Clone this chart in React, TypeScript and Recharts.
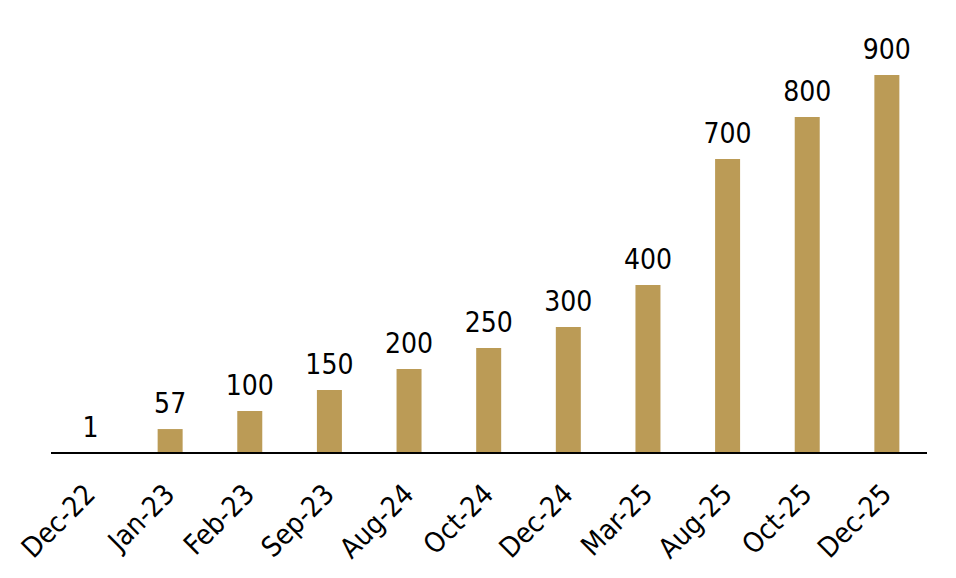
import React from "react";
import { BarChart, Bar, XAxis, YAxis, LabelList } from "recharts";

const categories = ["Dec-22", "Jan-23", "Feb-23", "Sep-23", "Aug-24", "Oct-24", "Dec-24", "Mar-25", "Aug-25", "Oct-25", "Dec-25"];
const values = [1, 57, 100, 150, 200, 250, 300, 400, 700, 800, 900];

const data = categories.map((c, i) => ({ name: c, value: values[i] }));

const FONT = "'DejaVu Sans Condensed', 'DejaVu Sans', sans-serif";

const Tick = (props: any) => {
  const { x, y, payload } = props;
  const ax = x + 6;
  const ay = y + 35;
  return (
    <text
      x={ax}
      y={ay}
      transform={`rotate(-45, ${ax}, ${ay})`}
      textAnchor="end"
      fontSize={28}
      fontFamily={FONT}
      style={{ fontStretch: "condensed" }}
      fill="#000"
    >
      {payload.value}
    </text>
  );
};

export default function App() {
  return (
    <div style={{ position: "absolute", left: 0, top: 0, width: 956, height: 578, background: "#fff" }}>
      <BarChart width={956} height={578} data={data} margin={{ top: 75, right: 29, left: 51, bottom: 0 }} barCategoryGap={0}>
        <YAxis hide domain={[0, 900]} />
        <XAxis
          dataKey="name"
          height={125}
          axisLine={{ stroke: "#000", strokeWidth: 2 }}
          tickLine={false}
          interval={0}
          tick={<Tick />}
        />
        <Bar dataKey="value" fill="#BB9B56" barSize={25} isAnimationActive={false}>
          <LabelList
            dataKey="value"
            position="top"
            offset={16}
            fontSize={28}
            fontFamily={FONT}
            style={{ fontStretch: "condensed" }}
            fill="#000"
          />
        </Bar>
      </BarChart>
    </div>
  );
}
